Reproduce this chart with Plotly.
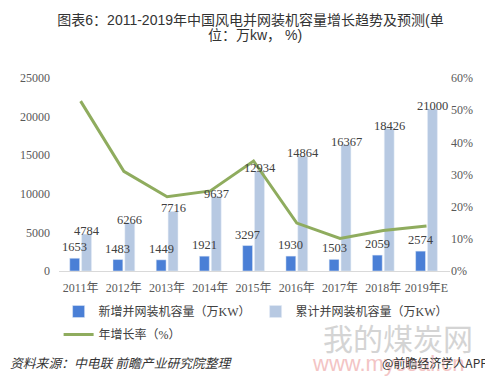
import plotly.graph_objects as go

categories = ["2011年", "2012年", "2013年", "2014年", "2015年", "2016年", "2017年", "2018年", "2019年E"]
new_capacity = [1653, 1483, 1449, 1921, 3297, 1930, 1503, 2059, 2574]
total_capacity = [4784, 6266, 7716, 9637, 12934, 14864, 16367, 18426, 21000]
growth_rate = [52.8, 31.0, 23.1, 24.9, 34.2, 14.9, 10.1, 12.6, 14.0]

left_ticks = [0, 5000, 10000, 15000, 20000, 25000]
right_ticks = [0, 10, 20, 30, 40, 50, 60]

title_line1 = "图表6：2011-2019年中国风电并网装机容量增长趋势及预测(单"
title_line2 = "位：万kw， %)"

serif = "Liberation Serif, Noto Sans CJK SC, serif"
cjk = "Liberation Serif, Noto Sans CJK SC, sans-serif"
title_font = "Liberation Sans, Noto Sans CJK SC, sans-serif"
tick_color = "#595959"
label_color = "#404040"

# The page body has an 8px default margin, so the figure is drawn 8px in.
OFF = 8
W, Hgt = 493 - OFF, 383 - OFF
ML, MR, MT, MB = 59 - OFF, 43, 78 - OFF, 112
PW, PH = W - ML - MR, Hgt - MT - MB


def pxx(x):
    """screen x (reference pixels) -> paper x"""
    return (x - OFF - ML) / PW


def pyy(y):
    """screen y (reference pixels) -> paper y"""
    return (Hgt - MB - (y - OFF)) / PH


fig = go.Figure()
fig.add_trace(go.Bar(
    x=categories, y=new_capacity, name="新增并网装机容量（万KW）",
    marker_color="#4A7FD6", legend="legend",
))
fig.add_trace(go.Bar(
    x=categories, y=total_capacity, name="累计并网装机容量（万KW）",
    marker_color="#B7C9E2", legend="legend",
))
fig.add_trace(go.Scatter(
    x=categories, y=[v / 100 for v in growth_rate], name="年增长率（%）",
    mode="lines", line=dict(color="#8FAC5E", width=3), yaxis="y2", legend="legend2",
))

annotations = []
for c, v in zip(categories, new_capacity):
    annotations.append(dict(
        x=c, y=v, xref="x", yref="y", text=str(v), showarrow=False,
        xshift=-6, yshift=2, yanchor="bottom",
        font=dict(family=serif, size=12.5, color=label_color),
    ))
for c, v in zip(categories, total_capacity):
    annotations.append(dict(
        x=c, y=v, xref="x", yref="y", text=str(v), showarrow=False,
        xshift=6, yshift=3, yanchor="middle",
        font=dict(family=serif, size=12.5, color=label_color),
    ))

annotations += [
    dict(x=0.5, xref="paper", y=pyy(35), yref="paper", text=title_line2, showarrow=False,
         xanchor="center", yanchor="middle",
         font=dict(family=title_font, size=14, color="#333333")),
    dict(x=pxx(398), y=pyy(337), xref="paper", yref="paper", text="我的煤炭网", showarrow=False,
         font=dict(family="Noto Sans CJK SC, sans-serif", size=30, color="#D4D4D4"),
         xanchor="center", yanchor="middle"),
    dict(x=pxx(388), y=pyy(363), xref="paper", yref="paper", text="www.mycoal.cn", showarrow=False,
         font=dict(family="Liberation Sans, sans-serif", size=22, color="#F3C4C4"),
         xanchor="center", yanchor="middle"),
    dict(x=pxx(8), y=pyy(362), xref="paper", yref="paper", text="<i>资料来源：中电联 前瞻产业研究院整理</i>",
         showarrow=False, xanchor="left", yanchor="middle",
         font=dict(family="Noto Sans CJK SC, sans-serif", size=12.8, color="#333333")),
    dict(x=pxx(490), y=pyy(362), xref="paper", yref="paper", text="@前瞻经济学人APP",
         showarrow=False, xanchor="right", yanchor="middle",
         font=dict(family="Noto Sans CJK SC, sans-serif", size=12, color="#333333")),
]

fig.update_layout(
    width=W, height=Hgt,
    margin=dict(l=ML, r=MR, t=MT, b=MB, autoexpand=False),
    paper_bgcolor="white", plot_bgcolor="white",
    barmode="group", bargap=0.45, bargroupgap=0.17,
    showlegend=True,
    title=dict(
        text=title_line1,
        x=0.5, xanchor="center", y=1 - (20.5 - OFF) / Hgt, yanchor="middle",
        font=dict(family=title_font, size=14, color="#333333"),
    ),
    xaxis=dict(
        type="category", showgrid=False, showline=True, linecolor="#D9D9D9", linewidth=1,
        ticks="", tickfont=dict(family=serif, size=12, color=tick_color),
        ticklabelstandoff=6,
    ),
    yaxis=dict(
        range=[0, 25000], tickvals=left_ticks, ticktext=[str(v) for v in left_ticks],
        showgrid=False, zeroline=False,
        showline=False, tickfont=dict(family=serif, size=12, color=tick_color),
        ticklabelstandoff=8,
    ),
    yaxis2=dict(
        range=[0, 0.6], tickvals=[v / 100 for v in right_ticks],
        ticktext=[f"{v}%" for v in right_ticks],
        overlaying="y", side="right", showgrid=False, zeroline=False, showline=False,
        tickfont=dict(family=serif, size=12, color=tick_color),
    ),
    legend=dict(
        orientation="h", x=-0.001, xanchor="left", y=pyy(297), yanchor="top",
        font=dict(family=cjk, size=12, color="#404040"),
        traceorder="normal",
    ),
    legend2=dict(
        orientation="h", x=-0.001, xanchor="left", y=pyy(320), yanchor="top",
        font=dict(family=cjk, size=12, color="#404040"),
    ),
    annotations=annotations,
)

fig.write_html("out.html")
